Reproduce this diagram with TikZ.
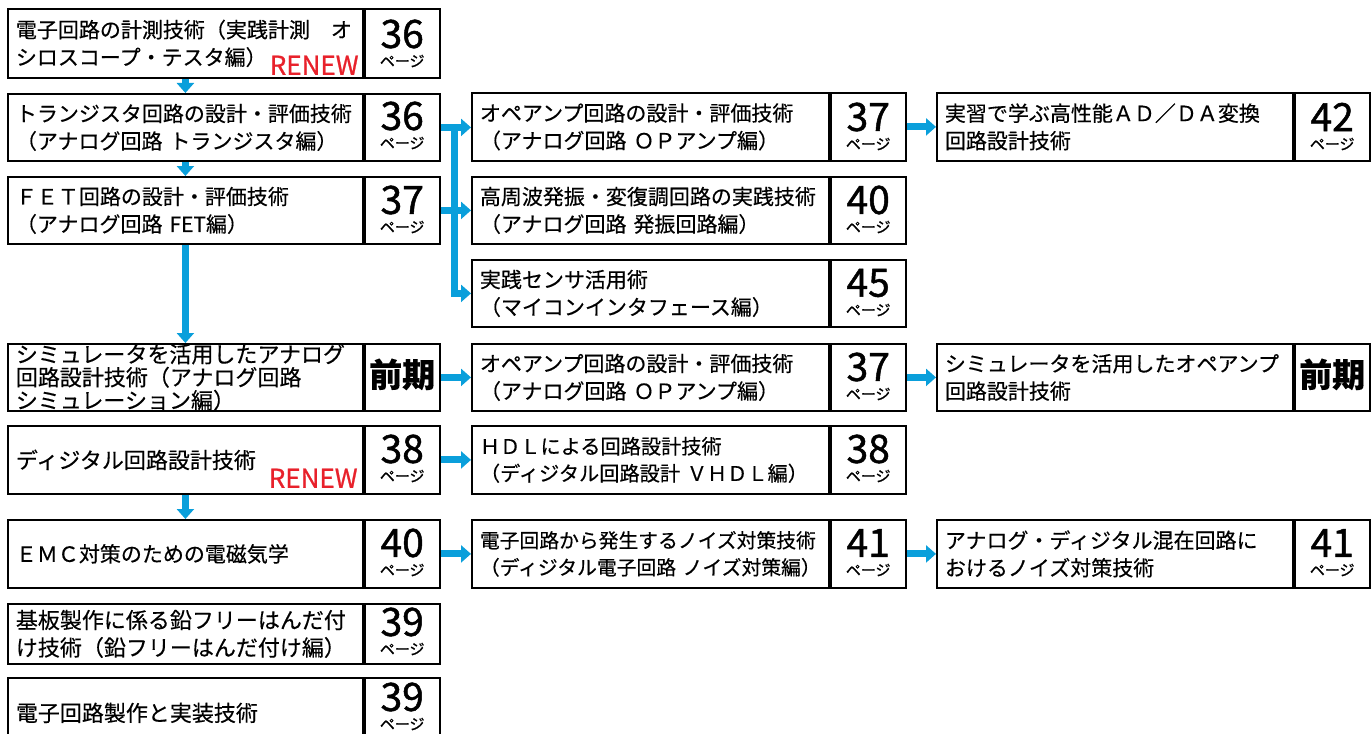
\documentclass[tikz,border=0pt]{standalone}
\usepackage{fontspec}
\setmainfont{Noto Sans CJK JP}[FakeBold=0.4]
\newfontfamily\numfont{Noto Sans CJK JP}[FakeBold=1.2]
\newfontfamily\kifont{Noto Sans CJK JP}[FakeBold=3]
\newfontfamily\renewfont{Noto Sans CJK JP}[FakeBold=0.8]
\usetikzlibrary{arrows.meta,calc}
\definecolor{arrblue}{HTML}{0A9FDB}
\definecolor{renewred}{HTML}{E8212B}
\tikzset{
 tbox/.style={draw=black, line width=1.8pt, anchor=north west, inner xsep=8pt, inner ysep=0pt, align=left, font=\fontsize{21}{27.5}\selectfont},
 nbox/.style={draw=black, line width=1.8pt, anchor=north west, minimum width=75pt, inner sep=0pt},
 numtxt/.style={font=\numfont\fontsize{39}{39}\selectfont, inner sep=0pt},
 pgtxt/.style={font=\numfont\fontsize{15}{15}\selectfont, inner sep=0pt},
 kitxt/.style={font=\bfseries\fontsize{33}{33}\selectfont, inner sep=0pt},
 renewtxt/.style={text=renewred, font=\renewfont\fontsize{26}{26}\selectfont, inner sep=0pt, anchor=base east},
 ln/.style={draw=arrblue, line width=7pt},
 arr/.style={ln, -{Triangle[width=17pt,length=10pt]}},
}
% opts, name, x, y, text width, height, text, number, dy
\newcommand\entry[9][]{%
 \node[tbox,#1,text width=#5pt,minimum height=#6pt] (#2) at (#3,#4) {#7};
 \node[nbox,minimum height=#6pt] (#2n) at (#2.north east) {};
 \node[numtxt] (#2d) at ([yshift=-#9pt]#2n.north) {#8};
 \node[pgtxt] (#2p) at ([yshift=-#9pt-27pt]#2n.north) {ページ};
}
\newcommand\entryk[7][]{%
 \node[tbox,#1,text width=#5pt,minimum height=#6pt] (#2) at (#3,#4) {#7};
 \node[nbox,minimum height=#6pt] (#2n) at (#2.north east) {};
 \node[kitxt] (#2d) at ([yshift=3pt]#2n.center) {前期};
}
\begin{document}
\begin{tikzpicture}[x=1pt,y=-1pt]
\useasboundingbox (0,0) rectangle (1372,733);
\clip (0,0) rectangle (1372,733);
% column 1
\entry{a1}{7}{8}{339}{69}{電子回路の計測技術（実践計測　オ\\シロスコープ・テスタ編）}{36}{26}
\entry{a2}{7}{93}{339}{67}{トランジスタ回路の設計・評価技術\\（アナログ回路 トランジスタ編）}{36}{23}
\entry{a3}{7}{176}{339}{67}{ＦＥＴ回路の設計・評価技術\\（アナログ回路 FET編）}{37}{24}
\entryk[font=\fontsize{22}{23}\selectfont]{a4}{7}{343}{339}{67}{シミュレータを活用したアナログ\\回路設計技術（アナログ回路\\シミュレーション編）}
\entry[font=\fontsize{22}{27.5}\selectfont]{a5}{7}{425}{339}{68}{ディジタル回路設計技術}{38}{24}
\entry{a6}{7}{519}{339}{68}{ＥＭＣ対策のための電磁気学}{40}{24}
\entry[font=\fontsize{22}{27.5}\selectfont]{a7}{7}{603}{339}{60}{基板製作に係る鉛フリーはんだ付\\け技術（鉛フリーはんだ付け編）}{39}{19}
\entry[font=\fontsize{22}{27.5}\selectfont]{a8}{7}{677}{339}{70}{電子回路製作と実装技術}{39}{20}
\node[renewtxt] (r1) at ([xshift=-5pt,yshift=4pt]a1.south east) {RENEW};
\node[renewtxt] (r5) at ([xshift=-6pt,yshift=7pt]a5.south east) {RENEW};
% column 2
\entry{b1}{471}{92}{341}{68}{オペアンプ回路の設計・評価技術\\（アナログ回路 ＯＰアンプ編）}{37}{25}
\entry{b2}{471}{176}{341}{67}{高周波発振・変復調回路の実践技術\\（アナログ回路 発振回路編）}{40}{24}
\entry{b3}{471}{259}{341}{67}{実践センサ活用術\\（マイコンインタフェース編）}{45}{24}
\entry{b4}{471}{343}{341}{67}{オペアンプ回路の設計・評価技術\\（アナログ回路 ＯＰアンプ編）}{37}{24}
\entry[font=\fontsize{20.2}{27}\selectfont]{b5}{471}{425}{341}{68}{ＨＤＬによる回路設計技術\\（ディジタル回路設計\mbox{ }ＶＨＤＬ編）}{38}{24}
\entry[font=\fontsize{19.8}{27}\selectfont]{b6}{471}{519}{341}{68}{電子回路から発生するノイズ対策技術\\（ディジタル電子回路 ノイズ対策編）}{41}{24}
% column 3
\entry{c1}{936}{92}{340}{68}{実習で学ぶ高性能ＡＤ／ＤＡ変換\\回路設計技術}{42}{25}
\entryk{c4}{936}{343}{340}{67}{シミュレータを活用したオペアンプ\\回路設計技術}
\entry{c6}{936}{519}{340}{68}{アナログ・ディジタル混在回路に\\おけるノイズ対策技術}{41}{24}
% connectors
\draw[arr] (a1.south) -- (a2.north);
\draw[arr] (a2.south) -- (a3.north);
\draw[arr] (a3.south) -- (a4.north);
\draw[arr] (a5.south) -- (a6.north);
\coordinate (br) at ([xshift=14pt]a2n.east);
\draw[arr] (a2n.east) -- (a2n.east -| b1.west);
\draw[ln] (a3n.east) -- (a3n.east -| br);
\draw[arr] (br) |- (b2.west);
\draw[arr] (br) |- (b3.west);
\draw[arr] (b1n.east) -- (b1n.east -| c1.west);
\draw[arr] (a4n.east) -- (a4n.east -| b4.west);
\draw[arr] (b4n.east) -- (b4n.east -| c4.west);
\draw[arr] (a5n.east) -- (a5n.east -| b5.west);
\draw[arr] (a6n.east) -- (a6n.east -| b6.west);
\draw[arr] (b6n.east) -- (b6n.east -| c6.west);
\end{tikzpicture}
\end{document}
